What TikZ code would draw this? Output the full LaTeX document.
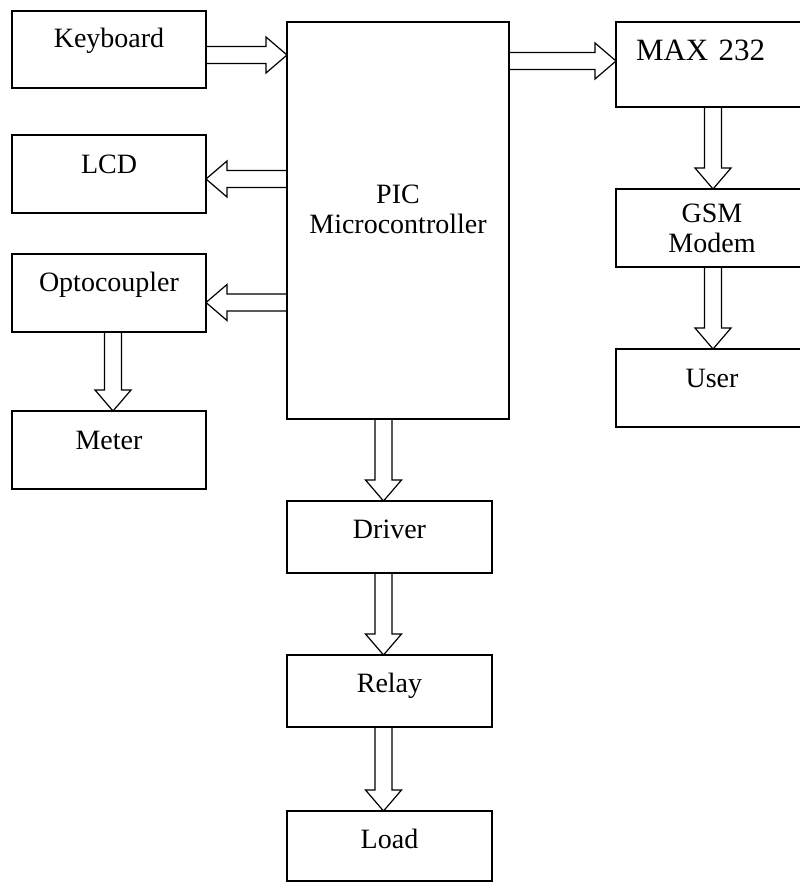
\documentclass[tikz,border=0pt]{standalone}
\usepackage{fontspec}
\setmainfont{Liberation Serif}
\usetikzlibrary{positioning,calc}

\begin{document}
\begin{tikzpicture}[
    x=1pt, y=-1pt,
    node distance=82pt,
    blk/.style={draw, line width=1.2pt, inner sep=0pt, outer sep=0pt,
                font=\fontsize{28}{30}\selectfont},
    side/.style={blk, minimum width=194pt},
    hollow/.style={draw, line width=1.2pt, line join=miter, to path={
        let \p1=(\tikztostart), \p2=(\tikztotarget),
            \n1={atan2(\y2-\y1,\x2-\x1)}, \n2={veclen(\x2-\x1,\y2-\y1)} in
        ([shift={(\p1)},rotate=\n1]0pt,8.5pt)
        -- ([shift={(\p1)},rotate=\n1]\n2-21pt,8.5pt)
        -- ([shift={(\p1)},rotate=\n1]\n2-21pt,18pt) -- (\p2)
        -- ([shift={(\p1)},rotate=\n1]\n2-21pt,-18pt)
        -- ([shift={(\p1)},rotate=\n1]\n2-21pt,-8.5pt)
        -- ([shift={(\p1)},rotate=\n1]0pt,-8.5pt)}}
  ]
    \useasboundingbox (0,0) rectangle (800,883);
    \clip (0,0) rectangle (800,883);

    % left column
    \node[side, text height=37pt, text depth=40pt] (kbd) at (109,49.5) {Keyboard};
    \node[side, text height=38pt, text depth=40pt] (lcd) at (109,174) {LCD};
    \node[side, text height=37pt, text depth=41pt] (opto) at (109,293) {Optocoupler};
    \node[side, text height=38pt, text depth=40pt, below=79pt of opto] (meter) {Meter};

    % controller
    \node[blk, minimum width=222pt, minimum height=397pt] (pic) at (398,220.5) {};
    \node[align=center, font=\fontsize{28}{30}\selectfont] (pictext)
      at ([yshift=11.5pt]pic.center) {PIC\\Microcontroller};

    % output chain
    \node[blk, minimum width=205pt, text height=37pt, text depth=35pt,
          below=of pic.south west, anchor=north west] (driver) {Driver};
    \node[blk, minimum width=205pt, text height=37pt, text depth=35pt,
          below=of driver] (relay) {Relay};
    \node[blk, minimum width=205pt, text height=37pt, text depth=33pt,
          below=84pt of relay] (load) {Load};

    % right column
    \node[blk, inner xsep=20pt, text width=152pt, align=left, text height=39pt,
          text depth=46pt, font=\fontsize{31}{34}\selectfont] (max) at (712,64.5) {MAX 232};
    \node[blk, minimum width=192pt, minimum height=78pt, align=center,
          below=of max] (gsm) {GSM\\Modem};
    \node[blk, minimum width=192pt, text height=38pt, text depth=40pt,
          below=of gsm] (user) {User};

    \draw[hollow] ([yshift=-5.5pt]kbd.east) to ([yshift=-5.5pt]kbd.east -| pic.west);
    \draw[hollow] ([yshift=-5pt]lcd.east -| pic.west) to ([yshift=-5pt]lcd.east);
    \draw[hollow] ([yshift=-9.5pt]opto.east -| pic.west) to ([yshift=-9.5pt]opto.east);
    \draw[hollow] ([xshift=4pt]opto.south) to ([xshift=4pt]meter.north);
    \draw[hollow] ([yshift=3.5pt]max.west -| pic.east) to ([yshift=3.5pt]max.west);
    \foreach \a/\b in {max/gsm, gsm/user}
      \draw[hollow] ([xshift=1pt]\a.south) to ([xshift=1pt]\b.north);
    \foreach \a/\b in {pic/driver, driver/relay, relay/load}
      \draw[hollow] ([xshift=-6pt]\a.south -| driver.south) to ([xshift=-6pt]\b.north);
  \end{tikzpicture}
\end{document}
